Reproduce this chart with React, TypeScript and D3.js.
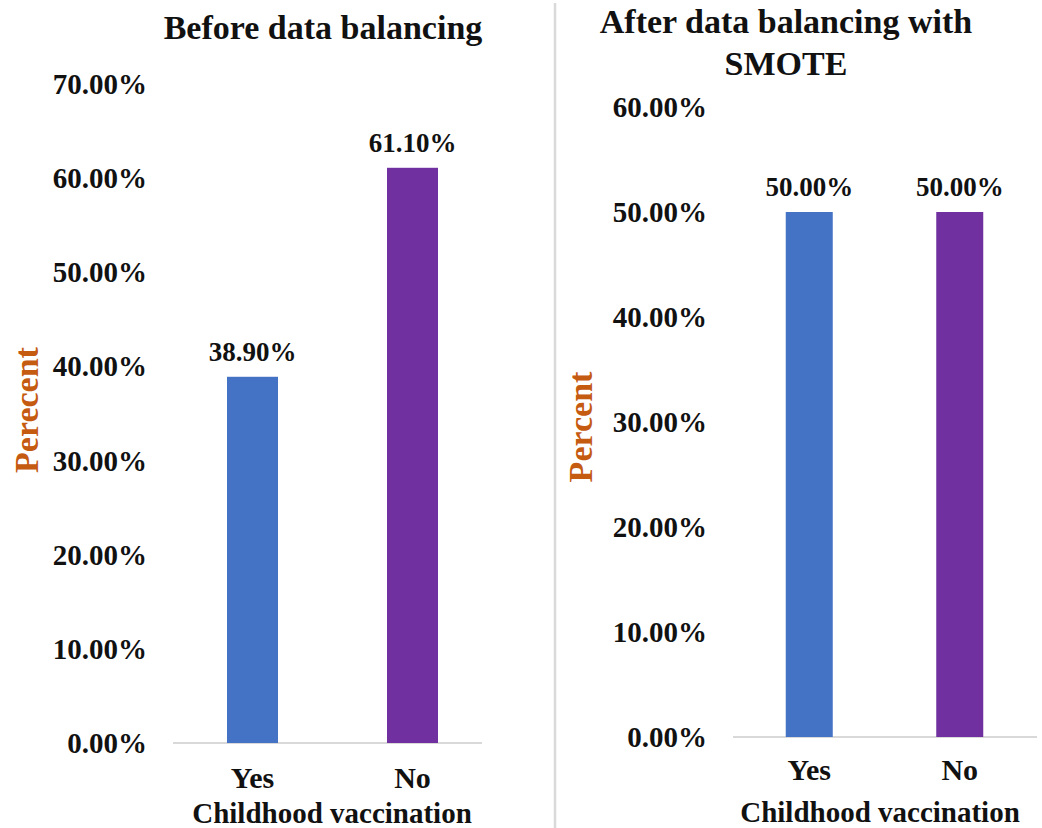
import React from "react";
import * as d3 from "d3";

const categories = ["Yes", "No"];
const beforeValues = [0.389, 0.611];
const afterValues = [0.5, 0.5];
const beforeTicks = [0, 0.1, 0.2, 0.3, 0.4, 0.5, 0.6, 0.7];
const afterTicks = [0, 0.1, 0.2, 0.3, 0.4, 0.5, 0.6];
const barColors = ["#4472C4", "#7030A0"];

const FONT = "'Liberation Serif', 'Times New Roman', serif";
const fmt = d3.format(".2%");

type PanelProps = {
  values: number[];
  ticks: number[];
  yMax: number;
  yRange: [number, number];
  xRange: [number, number];
  axisLine: [number, number];
  barWidth: number;
  tickRight: number;
  yLabel: string;
  yLabelPos: [number, number];
  titleLines: string[];
  titleX: number;
  titleY: number;
  catLabelOffset: number;
  xTitleX: number;
  xTitleY: number;
};

function Panel(p: PanelProps) {
  const y = d3.scaleLinear().domain([0, p.yMax]).range(p.yRange);
  const x = d3.scalePoint<string>().domain(categories).range(p.xRange).padding(0.5);
  const base = y(0);
  return (
    <g fontFamily={FONT} fontWeight="bold" fill="#111">
      {p.titleLines.map((t, i) => (
        <text key={t} x={p.titleX} y={p.titleY + i * 42} textAnchor="middle" fontSize={34}>
          {t}
        </text>
      ))}
      {p.ticks.map((t) => (
        <text key={t} x={p.tickRight} y={y(t)} textAnchor="end" dominantBaseline="central" fontSize={29}>
          {fmt(t)}
        </text>
      ))}
      <line x1={p.axisLine[0]} x2={p.axisLine[1]} y1={base} y2={base} stroke="#d9d9d9" strokeWidth={2} />
      {categories.map((c, i) => {
        const cx = x(c)!;
        const v = p.values[i];
        return (
          <g key={c}>
            <rect x={cx - p.barWidth / 2} y={y(v)} width={p.barWidth} height={base - y(v)} fill={barColors[i]} />
            <text x={cx} y={y(v) - 16} textAnchor="middle" fontSize={27}>
              {fmt(v)}
            </text>
            <text x={cx} y={base + p.catLabelOffset} textAnchor="middle" fontSize={30}>
              {c}
            </text>
          </g>
        );
      })}
      <text x={p.xTitleX} y={p.xTitleY} textAnchor="middle" fontSize={29}>
        Childhood vaccination
      </text>
      <text
        transform={`translate(${p.yLabelPos[0]},${p.yLabelPos[1]}) rotate(-90)`}
        textAnchor="middle"
        fontSize={34}
        fill="#C55A11"
      >
        {p.yLabel}
      </text>
    </g>
  );
}

export default function App() {
  return (
    <svg
      width={1042}
      height={828}
      style={{ position: "absolute", left: 0, top: 0, background: "#fff" }}
    >
      <rect width={1042} height={828} fill="#fff" />
      <Panel
        values={beforeValues}
        ticks={beforeTicks}
        yMax={0.7}
        yRange={[743, 84]}
        xRange={[172.5, 492.5]}
        axisLine={[173, 482]}
        barWidth={51}
        tickRight={147}
        yLabel="Perecent"
        yLabelPos={[38, 410]}
        titleLines={["Before data balancing"]}
        titleX={323}
        titleY={39}
        catLabelOffset={45}
        xTitleX={332}
        xTitleY={823}
      />
      <line x1={555} x2={555} y1={3} y2={828} stroke="#d9d9d9" strokeWidth={2.5} />
      <Panel
        values={afterValues}
        ticks={afterTicks}
        yMax={0.6}
        yRange={[737, 107]}
        xRange={[734, 1035]}
        axisLine={[733, 1037]}
        barWidth={47}
        tickRight={707}
        yLabel="Percent"
        yLabelPos={[592, 427]}
        titleLines={["After data balancing with", "SMOTE"]}
        titleX={786}
        titleY={33}
        catLabelOffset={43}
        xTitleX={880}
        xTitleY={822}
      />
    </svg>
  );
}
